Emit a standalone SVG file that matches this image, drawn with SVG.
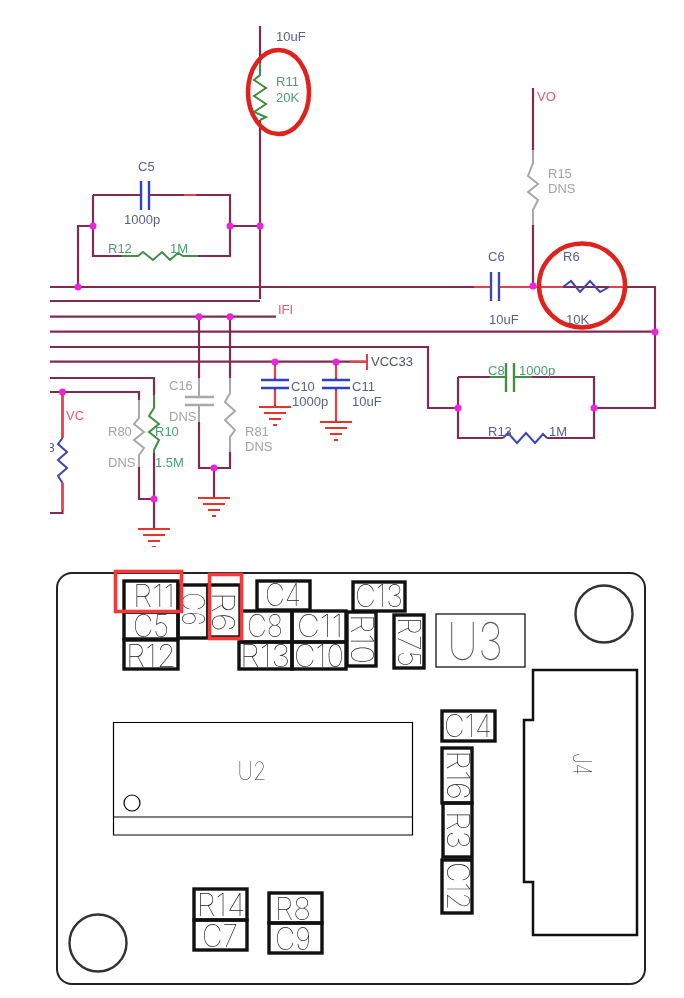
<svg xmlns="http://www.w3.org/2000/svg" width="684" height="998" viewBox="0 0 684 998">
<defs>
<filter id="soft" x="0" y="0" width="100%" height="100%"><feGaussianBlur stdDeviation="0.4"/></filter>
<filter id="flat" x="-10%" y="-10%" width="120%" height="120%"><feOffset dx="0" dy="0"/></filter>
<clipPath id="sheet"><rect x="50" y="0" width="634" height="560"/></clipPath>
<g id="gnd"><path d="M-16 0H16M-11 6H11M-6 12H6M-2 18H2" fill="none" stroke="#e8302c" stroke-width="2"/></g>
</defs>
<style>
text{font-family:"Liberation Sans",Arial,sans-serif;font-size:13px}
.w{fill:none;stroke:#84294f;stroke-width:2.2}
.r{fill:none;stroke:#e8404a;stroke-width:2}
.gy{fill:none;stroke:#a8a8a8;stroke-width:2}
.gr{fill:none;stroke:#3f8f45;stroke-width:2}
.bl{fill:none;stroke:#3a44b8;stroke-width:2}
.pl{fill:none;stroke:#2f3fc8;stroke-width:2.4}
.dot{fill:#f020e0}
.tg{fill:#4d9c74}
.tn{fill:#565f8c}
.tx{fill:#a2a2a8}
.tr{fill:#e85a70}
.tk{fill:#4a5560}
.mark{fill:none;stroke:#e0201a;stroke-width:4.5}
.pcb{fill:none;stroke:#222;stroke-width:2}
.thin{fill:none;stroke:#000;stroke-width:1.2}
.box{fill:none;stroke:#111;stroke-width:3.4}
.hole{fill:none;stroke:#333;stroke-width:2.4}
.sel{fill:none;stroke:#f23a3a;stroke-width:3.6}
.cad{font-family:Inter,"Liberation Sans",sans-serif;font-weight:100;font-size:31px;fill:#222;text-anchor:middle}
</style>
<rect width="684" height="998" fill="#fff"/>

<g id="schematic" clip-path="url(#sheet)"><g filter="url(#soft)">
<g id="connectors">
<path class="w" d="M260 26V63M260 120V299"/>
<path class="w" d="M50 287H488M502 287H655V408H594"/>
<path class="w" d="M93 195H141M149 195H230V256H183M138 256H93V195"/>
<path class="w" d="M78 287V226H93M230 226H260"/>
<path class="w" d="M50 301H260"/>
<path class="w" d="M50 316.700H276"/>
<path class="w" d="M50 331.700H655"/>
<path class="w" d="M50 347H428V408H458"/>
<path class="w" d="M50 361.700H367"/>
<path class="w" d="M50 378H154V395"/>
<path class="w" d="M50 392H139V400"/>
<path class="w" d="M533 88V150M533 225V287"/>
<path class="w" d="M458 377V438H503M547 438H594V377H514M506 377H458"/>
<path class="w" d="M199 316.700V378M199 422V468H230V452M230 316.700V378"/>
<path class="w" d="M214 468V498"/>
<path class="w" d="M139 467V499H154M154 453V528"/>
<path class="w" d="M62.500 392V438M62.500 483V513H50"/>
<path class="w" d="M275 362V380M275 388V407M336 362V380M336 388V422"/>
<path class="r" d="M474 287H491M499 287H563M609 287H627"/>
<path class="r" d="M62.500 396V438M62.500 483V510"/>
<path class="r" d="M350 361.700H367M275 366V378M275 390V405M336 366V378M336 390V420"/>
<path class="r" d="M184 195H196"/>
</g>

<g id="R11"><path class="gr" d="M260 63V75L254 80 266 88 254 96 266 104 254 112 266 117 260 120"/><text class="tg" x="276" y="86">R11</text><text class="tg" x="276" y="102">20K</text><text class="tn" x="276" y="41">10uF</text><ellipse class="mark" cx="278.500" cy="92" rx="30.500" ry="42"/></g>
<g id="C5"><path class="pl" d="M141 181V210M149 181V210"/><text class="tn" x="138" y="171">C5</text><text class="tn" x="124" y="224">1000p</text></g>
<g id="R12"><path class="gr" d="M122 256H138L143 252 153 260 162 252 170 260 178 253 183 256H198"/><text class="tg" x="108" y="253">R12</text><text class="tg" x="170" y="253">1M</text></g>
<g id="R15"><path class="gy" d="M533 150V163L528 176 538 184 528 192 538 200 533 210V225"/><text class="tx" x="548" y="178">R15</text><text class="tx" x="548" y="193">DNS</text><text class="tr" x="537" y="101">VO</text></g>
<g id="C6"><path class="pl" d="M491 272V301M499 272V301" style="stroke:#3b4aa8"/><text class="tn" x="488" y="261">C6</text><text class="tn" x="489" y="324">10uF</text></g>
<g id="R6"><path class="bl" d="M563 287L571 281 580 292 590 281 600 292 609 287"/><text class="tn" x="563" y="261">R6</text><text class="tn" x="566" y="324">10K</text><ellipse class="mark" cx="582" cy="285.500" rx="43" ry="42"/></g>
<g id="C8"><path class="gr" d="M490 377H506M514 377H532"/><path class="gr" d="M506 363V392M514 363V392" style="stroke-width:2.4"/><text class="tg" x="488" y="375">C8</text><text class="tg" x="519" y="375">1000p</text></g>
<g id="R13"><path class="bl" d="M503 438L508 433 517 443 526 433 535 443 543 434 547 438"/><text class="tn" x="488" y="436">R13</text><text class="tn" x="549" y="436">1M</text></g>
<g id="IFI"><text class="tr" x="278" y="314">IFI</text></g>
<g id="C16"><path class="gy" d="M199 378V397M199 405V422"/><path class="gy" d="M185 397H214M185 405H214" style="stroke-width:2.4"/><text class="tx" x="169" y="390">C16</text><text class="tx" x="169" y="421">DNS</text></g>
<g id="R81"><path class="gy" d="M230 378V393L225 402 235 411 225 420 235 430 230 437V452"/><text class="tx" x="245" y="436">R81</text><text class="tx" x="245" y="451">DNS</text></g>
<g id="R80"><path class="gy" d="M139 400V418L134 424 144 432 134 440 144 448 139 455V467"/><text class="tx" x="108" y="436">R80</text><text class="tx" x="108" y="467">DNS</text></g>
<g id="R10"><path class="gr" d="M154 395V408L149 416 159 424 149 432 159 440 154 450V453"/><text class="tg" x="155" y="436">R10</text><text class="tg" x="155" y="467">1.5M</text></g>
<g id="R8-sch"><path class="bl" d="M62.500 438L58 444 67 452 58 460 67 468 58 476 62.500 483"/><text fill="#4a55a8" x="47.500" y="452">8</text><text class="tr" x="66" y="420">VC</text></g>
<g id="C10"><path class="pl" d="M261 380H289M261 388H289"/><text class="tn" x="291" y="391">C10</text><text class="tn" x="292" y="406">1000p</text><use href="#gnd" x="275" y="407"/></g>
<g id="C11"><path class="pl" d="M322 380H350M322 388H350"/><text class="tn" x="352" y="391">C11</text><text class="tn" x="352" y="406">10uF</text><use href="#gnd" x="336" y="422"/></g>
<g id="VCC33"><path class="r" d="M367 354V370"/><text class="tk" x="371" y="366">VCC33</text></g>
<g id="grounds"><use href="#gnd" x="154" y="529"/><use href="#gnd" x="214" y="498"/></g>
<g id="junctions">
<circle class="dot" cx="78" cy="287" r="3.500"/><circle class="dot" cx="93" cy="226" r="3.500"/><circle class="dot" cx="230" cy="226" r="3.500"/><circle class="dot" cx="260" cy="226" r="3.500"/>
<circle class="dot" cx="533" cy="286" r="3.500"/><circle class="dot" cx="655" cy="332" r="3.500"/><circle class="dot" cx="458" cy="408" r="3.500"/><circle class="dot" cx="594" cy="408" r="3.500"/>
<circle class="dot" cx="199" cy="316.700" r="3.500"/><circle class="dot" cx="230" cy="316.700" r="3.500"/><circle class="dot" cx="275" cy="362" r="3.500"/><circle class="dot" cx="336" cy="362" r="3.500"/>
<circle class="dot" cx="62.500" cy="392" r="3.500"/><circle class="dot" cx="154" cy="499" r="3.500"/><circle class="dot" cx="214" cy="468" r="3.500"/>
</g>
</g></g>

<g id="pcb" filter="url(#flat)">
<g id="board">
<rect class="pcb" x="57" y="573" width="588" height="411" rx="15"/>
<circle class="hole" cx="604" cy="614" r="28.500"/>
<circle class="hole" cx="98" cy="943" r="28.500"/>
</g>
<g id="U3"><rect class="thin" x="436" y="614" width="89" height="53"/><text class="cad" x="475" y="660" textLength="56" lengthAdjust="spacingAndGlyphs" style="font-size:52px;fill:#555">U3</text></g>
<g id="U2"><path class="thin" d="M113.500 722.500H412.500V835H113.500ZM113.500 817H412.500"/><circle class="thin" cx="132" cy="803" r="8"/><text class="cad" x="252" y="780" textLength="29" lengthAdjust="spacingAndGlyphs" style="font-size:25px">U2</text></g>
<g id="J4"><path d="M533 670H637V935H533V882H524V720H533Z" fill="none" stroke="#111" stroke-width="2.500"/><text class="cad" transform="translate(573 764) rotate(90)" textLength="22" lengthAdjust="spacingAndGlyphs" style="font-size:25px">J4</text></g>

<g id="p-R11"><rect class="box" x="124" y="581" width="54" height="31"/><text class="cad" x="154" y="607" textLength="42" lengthAdjust="spacingAndGlyphs">R11</text></g>
<g id="p-C5"><rect class="box" x="124" y="612" width="54" height="27"/><text class="cad" x="151" y="637" textLength="36" lengthAdjust="spacingAndGlyphs">C5</text></g>
<g id="p-R12"><rect class="box" x="124" y="640" width="54" height="29"/><text class="cad" x="151" y="667" textLength="50" lengthAdjust="spacingAndGlyphs">R12</text></g>
<g id="p-C6"><rect class="box" x="178" y="585" width="30" height="53"/><text class="cad" transform="translate(182 609) rotate(90)" textLength="34" lengthAdjust="spacingAndGlyphs">C6</text></g>
<g id="p-R6"><rect class="box" x="208" y="585" width="32" height="52"/><text class="cad" transform="translate(212 612) rotate(90)" textLength="40" lengthAdjust="spacingAndGlyphs">R6</text></g>
<g id="p-C4"><rect class="box" x="257" y="581" width="53" height="29"/><text class="cad" x="283" y="606" textLength="36" lengthAdjust="spacingAndGlyphs">C4</text></g>
<g id="p-C8"><rect class="box" x="241" y="611" width="51" height="31"/><text class="cad" x="265" y="637" textLength="36" lengthAdjust="spacingAndGlyphs">C8</text></g>
<g id="p-C11"><rect class="box" x="292" y="611" width="54" height="31"/><text class="cad" x="320" y="637" textLength="46" lengthAdjust="spacingAndGlyphs">C11</text></g>
<g id="p-R13"><rect class="box" x="239" y="642" width="53" height="27"/><text class="cad" x="265" y="667" textLength="50" lengthAdjust="spacingAndGlyphs">R13</text></g>
<g id="p-C10"><rect class="box" x="292" y="642" width="54" height="27"/><text class="cad" x="319" y="667" textLength="50" lengthAdjust="spacingAndGlyphs">C10</text></g>
<g id="p-C13"><rect class="box" x="353" y="582" width="52" height="29"/><text class="cad" x="379" y="607" textLength="48" lengthAdjust="spacingAndGlyphs">C13</text></g>
<g id="p-R10"><rect class="box" x="347" y="612" width="29" height="54"/><text class="cad" transform="translate(351 639) rotate(90)" textLength="50" lengthAdjust="spacingAndGlyphs">R10</text></g>
<g id="p-R75"><rect class="box" x="394" y="615" width="30" height="53"/><text class="cad" transform="translate(398 642) rotate(90)" textLength="50" lengthAdjust="spacingAndGlyphs">R75</text></g>
<g id="p-C14"><rect class="box" x="442" y="711" width="53" height="30"/><text class="cad" x="468" y="737" textLength="48" lengthAdjust="spacingAndGlyphs">C14</text></g>
<g id="p-R16"><rect class="box" x="442" y="748" width="30" height="55"/><text class="cad" transform="translate(447 775) rotate(90)" textLength="50" lengthAdjust="spacingAndGlyphs">R16</text></g>
<g id="p-R3"><rect class="box" x="443" y="803" width="29" height="54"/><text class="cad" transform="translate(447 830) rotate(90)" textLength="38" lengthAdjust="spacingAndGlyphs">R3</text></g>
<g id="p-C12"><rect class="box" x="442" y="860" width="30" height="53"/><text class="cad" transform="translate(447 886) rotate(90)" textLength="48" lengthAdjust="spacingAndGlyphs">C12</text></g>
<g id="p-R14"><rect class="box" x="194" y="889" width="53" height="31"/><text class="cad" x="221" y="916" textLength="49" lengthAdjust="spacingAndGlyphs">R14</text></g>
<g id="p-C7"><rect class="box" x="194" y="920" width="53" height="30"/><text class="cad" x="220" y="947" textLength="36" lengthAdjust="spacingAndGlyphs">C7</text></g>
<g id="p-R8"><rect class="box" x="269" y="893" width="53" height="30"/><text class="cad" x="293" y="920" textLength="36" lengthAdjust="spacingAndGlyphs">R8</text></g>
<g id="p-C9"><rect class="box" x="269" y="923" width="53" height="30"/><text class="cad" x="293" y="950" textLength="36" lengthAdjust="spacingAndGlyphs">C9</text></g>
<g id="highlights"><rect class="sel" x="115.500" y="571.500" width="66" height="40"/><rect class="sel" x="209.500" y="574.500" width="32" height="64"/></g>
</g>
</svg>
